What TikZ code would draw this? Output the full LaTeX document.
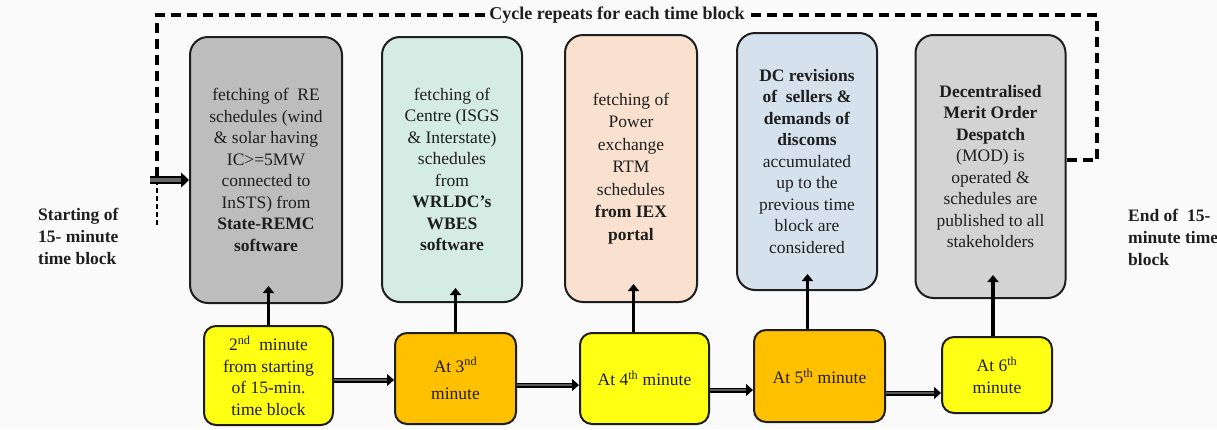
\documentclass[tikz,border=0pt]{standalone}
\usepackage{fontspec}
\setmainfont{Liberation Serif}
\usetikzlibrary{arrows.meta}
\definecolor{bgc}{HTML}{FAFAFA}
\definecolor{grayA}{HTML}{BDBDBD}
\definecolor{grayB}{HTML}{D3D3D3}
\definecolor{greenA}{HTML}{D4ECE4}
\definecolor{peachA}{HTML}{FAE1CF}
\definecolor{blueA}{HTML}{D5E2EE}
\definecolor{yellowA}{HTML}{FFFF14}
\definecolor{orangeA}{HTML}{FFC000}
\definecolor{inkc}{HTML}{1E1E1E}
\tikzset{
  txt/.style={font=\rmfamily\fontsize{17.5}{21.5}\selectfont, text=inkc, align=center},
  topbox/.style={txt, draw=inkc, line width=2pt, rounded corners=18pt, inner sep=0pt},
  botbox/.style={txt, draw=inkc, line width=2pt, rounded corners=12pt, inner sep=0pt},
  vup/.style={draw=black, line width=3.5pt, -{Triangle[length=7pt,width=11pt]}},
  harrow/.style={draw=black, double=black!65, line width=1.2pt, double distance=2.6pt, -{Triangle[length=7pt,width=12pt]}},
  bigarrow/.style={draw=black, double=black!60, line width=1.3pt, double distance=4.5pt, -{Triangle[length=8pt,width=15pt]}},
  loopdash/.style={draw=black, line width=3.2pt, dash pattern=on 10pt off 6pt},
  thindash/.style={draw=black, line width=1.1pt, dash pattern=on 5pt off 3pt},
  sidetxt/.style={font=\rmfamily\fontsize{17.5}{22}\selectfont\bfseries, text=inkc, align=left, anchor=west, inner sep=0pt}
}
\begin{document}
\begin{tikzpicture}[x=1pt,y=-1pt]
\useasboundingbox (0,0) rectangle (1217,429);
\fill[bgc] (0,0) rectangle (1217,429);

% top boxes
\node[topbox, fill=grayA, minimum width=152pt, minimum height=266pt] (g1) at (266,170)
 {fetching of~ RE\\schedules (wind\\\& solar having\\IC>=5MW\\connected to\\InSTS) from\\\textbf{State-REMC}\\\textbf{software}};
\node[topbox, fill=greenA, minimum width=140pt, minimum height=265pt] (g2) at (452,169.5)
 {fetching of\\Centre (ISGS\\\& Interstate)\\schedules\\from\\\textbf{WRLDC’s}\\\textbf{WBES}\\\textbf{software}};
\node[topbox, fill=peachA, minimum width=132pt, minimum height=267pt] (g3) at (631,168.5)
 {fetching of\\[1pt]Power\\[1pt]exchange\\[1pt]RTM\\[1pt]schedules\\[1pt]\textbf{from IEX}\\[1pt]\textbf{portal}};
\node[topbox, fill=blueA, minimum width=140pt, minimum height=257pt] (g4) at (807,161.5)
 {\textbf{DC revisions}\\\textbf{of~ sellers \&}\\\textbf{demands of}\\\textbf{discoms}\\accumulated\\up to the\\previous time\\block are\\considered};
\node[topbox, fill=grayB, minimum width=150pt, minimum height=263pt] (g5) at (990.5,166.5)
 {\textbf{Decentralised}\\\textbf{Merit Order}\\\textbf{Despatch}\\(MOD) is\\operated \&\\schedules are\\published to all\\stakeholders};

% bottom boxes
\node[botbox, fill=yellowA, minimum width=129pt, minimum height=99pt] (b1) at (268.5,375.5)
 {2\textsuperscript{nd}~ minute\\from starting\\of 15-min.\\time block};
\node[botbox, fill=orangeA, minimum width=121pt, minimum height=91pt] (b2) at (455.5,378.5)
 {At 3\textsuperscript{nd}\\[6pt]minute};
\node[botbox, fill=yellowA, minimum width=129pt, minimum height=91pt] (b3) at (644.5,378.5)
 {At 4\textsuperscript{th} minute};
\node[botbox, fill=orangeA, minimum width=131pt, minimum height=92pt] (b4) at (819.5,376)
 {At 5\textsuperscript{th} minute};
\node[botbox, fill=yellowA, minimum width=110pt, minimum height=76pt] (b5) at (997,375)
 {At 6\textsuperscript{th}\\minute};

% side texts
\node[sidetxt] (st) at (38,236) {Starting of\\15- minute\\time block};
\node[sidetxt] (et) at (1128,237) {End of~ 15-\\minute time\\block};

% title
\node[font=\rmfamily\fontsize{18}{22}\selectfont\bfseries, text=inkc, inner sep=4pt] (title) at (617,15) {Cycle repeats for each time block};

% vertical arrows
\draw[vup] (b1.north) -- ([yshift=18pt]b1.north |- g1.south);
\draw[vup] (b2.north) -- ([yshift=15pt]b2.north |- g2.south);
\draw[vup] ([xshift=-11pt]b3.north) -- ([xshift=-11pt,yshift=19pt]b3.north |- g3.south);
\draw[vup] ([xshift=-12pt]b4.north) -- ([xshift=-12pt,yshift=17pt]b4.north |- g4.south);
\draw[vup] ([xshift=-4pt]b5.north) -- ([xshift=-4pt,yshift=24pt]b5.north |- g5.south);

% horizontal arrows
\coordinate (h1) at ([yshift=-4.5pt]b1.east);
\draw[harrow] (h1) -- (h1 -| b2.west);
\coordinate (h2) at ([yshift=-6.5pt]b2.east);
\draw[harrow] (h2) -- (h2 -| b3.west);
\coordinate (h3) at ([yshift=-11.5pt]b3.east);
\draw[harrow] (h3) -- (h3 -| b4.west);
\coordinate (h4) at ([yshift=-17pt]b4.east);
\draw[harrow] (h4) -- (h4 -| b5.west);

% dashed cycle loop
\coordinate (ls) at ([yshift=6.5pt]g5.east);
\coordinate (rc) at (1097,15);
\coordinate (lc) at (157,15);
\coordinate (lb) at (157,180);
\coordinate (lbot) at (157,227);
\draw[loopdash] (ls) -| (rc) -- (title.east);
\draw[loopdash] (title.west) -- (lc) -- (lb);
\draw[thindash] (lb) -- (lbot);

% start arrow
\coordinate (sa) at (150,180);
\draw[bigarrow] (sa) -- (sa -| g1.west);
\end{tikzpicture}
\end{document}
